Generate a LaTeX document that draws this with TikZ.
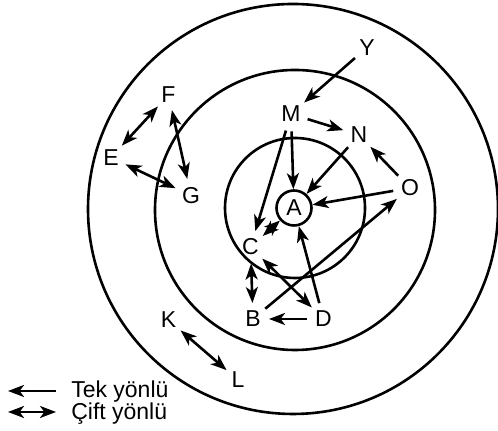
\documentclass[tikz,border=0pt]{standalone}
\usepackage{fontspec}
\setmainfont{Liberation Sans}
\usetikzlibrary{arrows.meta}
\begin{document}
\begin{tikzpicture}[x=0.5pt,y=0.5pt,line width=1.3pt,line join=round,
	>={Stealth[length=8pt,width=6pt,inset=2.2pt]},
	font=\fontsize{11.5}{13.5}\selectfont,
	harf/.style={circle,inner sep=1.3pt},
	tek/.style={->},
	cift/.style={<->}]
	\useasboundingbox (0,0) rectangle (498,431);
	% halkalar
	\draw (293,222) circle (205);
	\draw (295,221) circle (140);
	\draw (295,223) circle (70);
	% harfler
	\node[draw,circle,minimum size=17.5pt,inner sep=0pt] (A) at (294,223) {A};
	\node[harf] (Y) at (367,383.5) {Y};
	\node[harf] (M) at (291,317) {M};
	\node[harf] (N) at (359,296) {N};
	\node[harf] (O) at (410,243) {O};
	\node[harf] (C) at (250.5,184) {C};
	\node[harf] (B) at (253,112) {B};
	\node[harf] (D) at (323.5,112) {D};
	\node[harf] (F) at (168.5,336) {F};
	\node[harf] (E) at (111,273.5) {E};
	\node[harf] (G) at (191,235.5) {G};
	\node[harf] (K) at (168.5,111) {K};
	\node[harf] (L) at (238,51) {L};
	% tek yonlu
	\draw[tek] (Y) -- (M);
	\draw[tek] (M) -- (N);
	\draw[tek] (M) -- (A);
	\draw[tek] (M) -- (C);
	\draw[tek] (N) -- (A);
	\draw[tek] (O) -- (N);
	\draw[tek] (O) -- (A);
	\draw[tek] (B) -- (O);
	\draw[tek] (D) -- (A);
	\draw[tek] (D) -- (B);
	% cift yonlu
	\draw[cift] (C) -- (A);
	\draw[cift] (C) -- (D);
	\draw[cift] (C) -- (B);
	\draw[cift] (F) -- (E);
	\draw[cift] (E) -- (G);
	\draw[cift] (F) -- (G);
	\draw[cift] (K) -- (L);
	% lejant
	\coordinate (t1) at (8,40);
	\coordinate (t2) at (56,40);
	\coordinate (c1) at (8,19);
	\coordinate (c2) at (56,19);
	\draw[tek] (t2) -- (t1);
	\draw[cift] (c1) -- (c2);
	\node[anchor=base west,inner sep=0pt] (tekyazi) at (70,33) {Tek yönlü};
	\node[anchor=base west,inner sep=0pt] (ciftyazi) at (70,11) {Çift yönlü};
\end{tikzpicture}
\end{document}
